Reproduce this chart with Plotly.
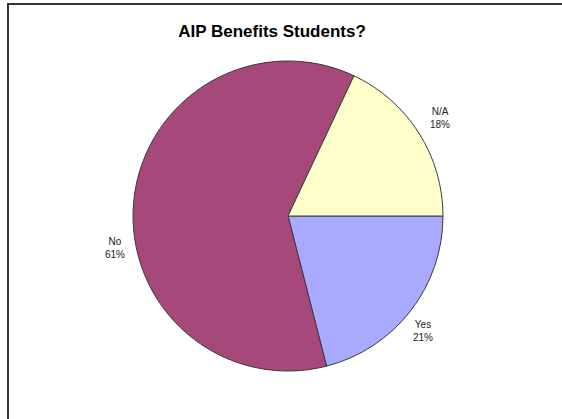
import math
import plotly.graph_objects as go

# Survey responses
categories = ["Yes", "No", "N/A"]
shares = [21, 61, 18]
slice_colors = ["#A8AAFF", "#A6497A", "#FFFFCC"]

W, H = 562, 419
cx, cy, radius = 288, 216, 155
label_dist = 177
# small pixel nudges for each outside label (x, y; y positive = down)
label_nudge = [(-5, 7), (3, 49), (3, -3)]

fig = go.Figure(
    go.Pie(
        labels=categories,
        values=shares,
        sort=False,
        direction="clockwise",
        rotation=90,
        textinfo="none",
        hoverinfo="label+percent",
        marker=dict(colors=slice_colors, line=dict(color="#3a3a3a", width=1)),
        domain=dict(
            x=[(cx - radius) / W, (cx + radius) / W],
            y=[1 - (cy + radius) / H, 1 - (cy - radius) / H],
        ),
        showlegend=False,
    )
)

# Outside labels placed at each slice's mid-angle (clockwise from 3 o'clock)
total = sum(shares)
annotations = []
start = 0.0
for name, val, (nx, ny) in zip(categories, shares, label_nudge):
    frac = val / total
    mid = (start + frac / 2) * 2 * math.pi
    start += frac
    x_px = cx + label_dist * math.cos(mid)
    y_px = cy + label_dist * math.sin(mid)
    annotations.append(
        dict(
            x=x_px / W,
            y=1 - y_px / H,
            xref="paper",
            yref="paper",
            xanchor="center",
            yanchor="middle",
            xshift=nx,
            yshift=-ny,
            text=f"{name}<br>{round(frac * 100)}%",
            showarrow=False,
            font=dict(family="Liberation Sans, Arial, sans-serif", size=10, color="#222222"),
            align="center",
        )
    )

fig.update_layout(
    width=W,
    height=H,
    margin=dict(l=0, r=0, t=0, b=0),
    paper_bgcolor="white",
    plot_bgcolor="white",
    title=dict(
        text="<b>AIP Benefits Students?</b>",
        x=272 / W,
        xanchor="center",
        y=1 - 31 / H,
        yanchor="middle",
        font=dict(family="Liberation Sans, Arial, sans-serif", size=17, color="black"),
    ),
    annotations=annotations,
    shapes=[
        dict(
            type="rect",
            xref="paper",
            yref="paper",
            x0=8 / W,
            x1=1.05,
            y0=-0.05,
            y1=1 - 4 / H,
            line=dict(color="#333333", width=2),
            fillcolor="rgba(0,0,0,0)",
        )
    ],
)

fig.write_html("out.html")
